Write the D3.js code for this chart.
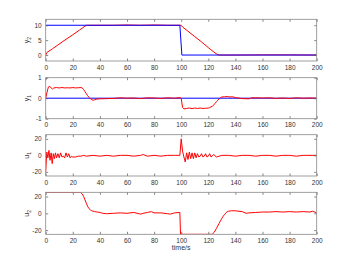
<!DOCTYPE html>
<html>
<head>
<meta charset="utf-8">
<script src="https://cdnjs.cloudflare.com/ajax/libs/d3/7.8.5/d3.min.js"></script>
<style>
body { margin: 0; background: white; }
.tick text { font-family: "Liberation Sans", Arial, sans-serif; font-size: 6.5px; fill: #333; }
.ylab, .xlab { font-family: "Liberation Sans", Arial, sans-serif; font-size: 7px; fill: #333; text-anchor: middle; }
.frame { fill: none; stroke: #888; stroke-width: 0.8; }
.line { fill: none; stroke-width: 1; }
</style>
</head>
<body>
<svg width="350" height="263"></svg>
<script>
// --- data ---
var xTicks = [0, 20, 40, 60, 80, 100, 120, 140, 160, 180, 200];

var y2T = [0, 1, 5, 10, 15, 20, 25, 29, 30, 31, 50, 60, 70, 80, 90, 99, 100, 101, 105, 110, 115, 120, 125, 127, 128, 140, 160, 180, 200];
var y2V = [0, 0.9, 2.1, 3.7, 5.3, 6.8, 8.4, 9.7, 10, 10, 10, 10.1, 10, 10.1, 10, 10, 10, 9.4, 8, 6.2, 4.4, 2.5, 0.7, 0.1, 0, 0, 0.05, 0.05, 0];
var r2T = [0, 99, 100.5, 200];
var r2V = [10, 10, 0, 0];

var y1T = [0, 1, 2, 3, 4, 5, 6, 8, 10, 12, 14, 16, 18, 20, 22, 24, 26, 27, 28, 29, 30, 31, 32, 33, 34, 35, 36, 38, 40, 45, 50, 55, 60, 65, 70, 75, 80, 85, 90, 95, 99,
  100, 101, 102, 104, 106, 108, 110, 112, 114, 116, 118, 120, 121, 122, 123, 124, 125, 126, 127, 128, 129, 130, 132, 134, 136, 138, 140, 145, 150, 152, 155, 160, 165, 170, 175, 180, 185, 190, 195, 200];
var y1V = [0, 0.3, 0.55, 0.58, 0.5, 0.45, 0.5, 0.52, 0.5, 0.52, 0.5, 0.51, 0.5, 0.52, 0.5, 0.51, 0.52, 0.5, 0.42, 0.32, 0.22, 0.12, 0.04, -0.03, -0.07, -0.1, -0.08, -0.04, -0.03, -0.02, -0.01, 0.02, 0, 0.01, -0.02, 0.02, 0.01, -0.01, 0.02, 0, 0.03,
  0, -0.45, -0.52, -0.5, -0.48, -0.51, -0.48, -0.5, -0.48, -0.5, -0.49, -0.48, -0.46, -0.42, -0.4, -0.33, -0.25, -0.17, -0.1, -0.03, 0.03, 0.06, 0.07, 0.08, 0.06, 0.07, 0.03, -0.02, -0.03, 0.02, 0.02, 0.01, 0.02, -0.01, 0.01, -0.01, 0.02, 0, 0.01, 0];
var r1T = [0, 200];
var r1V = [0, 0];

var u1T = [0, 0.8, 1.6, 2.4, 3.2, 4, 4.8, 5.6, 6.4, 7.2, 8, 9, 10, 11, 12, 13, 14, 15, 16, 17, 18, 19, 20, 22, 24, 26, 28, 30, 35, 40, 45, 50, 55, 60, 65, 70, 72, 75, 80, 85, 90, 95, 99,
  100, 101, 102, 103, 104, 105, 106, 107, 108, 109, 110, 111, 112, 113, 114, 115, 116, 117, 118, 119, 120, 121, 122, 124, 126, 128, 130, 135, 140, 145, 150, 155, 160, 165, 170, 175, 180, 185, 190, 195, 200];
var u1V = [-20, 4, -3, 6, -6, 3, -10, 2, -4, 3, -3, 2, -3, 3, -2, -1, -3, 3, -2, 2, -3, -1, -2, -2, -1, -1, 0, -1, 0, -1, 0, -1, 0, 0, -1, 0, 1, -1, 0, -1, 0, 0, 0,
  20, 5, -2, -8, 3, -5, 4, -4, 3, -4, 3, -3, 2, -2, -1, 2, -2, -1, 2, -2, -1, 2, -2, 1, -2, -1, 0, 0, -1, 0, 0, -1, 0, 0, -1, 0, 0, -1, 0, 0, 0];

var u2T = [0, 25, 26, 27, 28, 29, 30, 31, 32, 33, 34, 36, 38, 40, 42, 45, 50, 55, 60, 65, 70, 72, 75, 78, 80, 85, 90, 92, 95, 99,
  99.5, 123, 124, 125, 126, 127, 128, 129, 130, 131, 132, 133, 134, 135, 137, 140, 142, 145, 148, 150, 155, 160, 165, 170, 175, 180, 185, 190, 195, 197, 200];
var u2V = [25, 25, 24.5, 23, 20, 16, 12, 8, 5.5, 4, 3, 2, 1.5, 1, 0, -0.5, 0, 0.5, 0, 1, -1, 0, 1, 2, 0.5, 0.5, -0.5, -1, 0.5, 1,
  -25, -25, -23, -21, -18, -15, -12, -9, -6, -3.5, -1.5, 0.5, 2, 2.5, 3, 3, 2.5, 2, 0, 0.5, 1, 1.5, 1.5, 2, 1.5, 2, 1.5, 2, 1.5, 2.5, 0.5];

var panels = [
  { lab: "y", sub: "2", dom: [-2, 12], ticks: [0, 5, 10], top: 19.3, bot: 61,
    series: [[y2T, y2V, "#ff0000"], [r2T, r2V, "#0000ff"]] },
  { lab: "y", sub: "1", dom: [-1, 1], ticks: [-1, 0, 1], top: 77.7, bot: 118.7,
    series: [[r1T, r1V, "#0000ff"], [y1T, y1V, "#ff0000"]] },
  { lab: "u", sub: "1", dom: [-25, 25], ticks: [-20, 0, 20], top: 134.7, bot: 176,
    series: [[u1T, u1V, "#ff0000"]] },
  { lab: "u", sub: "2", dom: [-25, 25], ticks: [-20, 0, 20], top: 192.3, bot: 234.3,
    series: [[u2T, u2V, "#ff0000"]] }
];

var svg = d3.select("svg");
var x = d3.scaleLinear().domain([0, 200]).range([45.7, 316.7]);
var plain = function (d) { return String(d); };

panels.forEach(function (p, k) {
  var y = d3.scaleLinear().domain(p.dom).range([p.bot, p.top]);
  var g = svg.append("g");

  var clipId = "clip" + k;
  g.append("clipPath").attr("id", clipId).append("rect")
    .attr("x", x.range()[0]).attr("y", p.top)
    .attr("width", x.range()[1] - x.range()[0]).attr("height", p.bot - p.top);

  p.series.forEach(function (s) {
    var pts = s[0].map(function (t, i) { return [t, s[1][i]]; });
    g.append("path")
      .datum(pts)
      .attr("class", "line")
      .attr("clip-path", "url(#" + clipId + ")")
      .attr("stroke", s[2])
      .attr("d", d3.line().x(function (d) { return x(d[0]); }).y(function (d) { return y(d[1]); }));
  });

  // axes with inward ticks, mirrored on top/right
  g.append("g").attr("transform", "translate(0," + p.bot + ")")
    .call(d3.axisBottom(x).tickValues(xTicks).tickFormat(plain).tickSizeInner(-2.5).tickSizeOuter(0).tickPadding(4));
  g.append("g").attr("transform", "translate(0," + p.top + ")")
    .call(d3.axisTop(x).tickValues(xTicks).tickSizeInner(-2.5).tickSizeOuter(0).tickFormat(""));
  g.append("g").attr("transform", "translate(" + x.range()[0] + ",0)")
    .call(d3.axisLeft(y).tickValues(p.ticks).tickFormat(plain).tickSizeInner(-2.5).tickSizeOuter(0).tickPadding(4));
  g.append("g").attr("transform", "translate(" + x.range()[1] + ",0)")
    .call(d3.axisRight(y).tickValues(p.ticks).tickSizeInner(-2.5).tickSizeOuter(0).tickFormat(""));
  g.selectAll(".domain").remove();
  g.selectAll(".tick line").attr("stroke", "#555").attr("stroke-width", 0.7);

  g.append("rect").attr("class", "frame")
    .attr("x", x.range()[0]).attr("y", p.top)
    .attr("width", x.range()[1] - x.range()[0]).attr("height", p.bot - p.top);

  var cy = (p.top + p.bot) / 2;
  var t = g.append("text").attr("class", "ylab")
    .attr("transform", "translate(29," + cy + ") rotate(-90)");
  t.append("tspan").text(p.lab);
  t.append("tspan").attr("font-size", "5px").attr("dy", "2").text(p.sub);
});

svg.append("text").attr("class", "xlab")
  .attr("x", (x.range()[0] + x.range()[1]) / 2).attr("y", 250)
  .text("time/s");
</script>
</body>
</html>
